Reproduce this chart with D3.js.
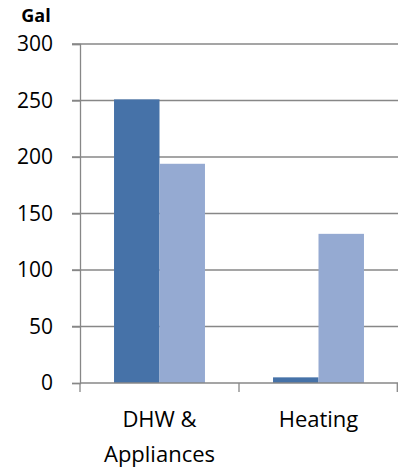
<!DOCTYPE html>
<html>
<head>
<meta charset="utf-8">
<script src="https://cdn.jsdelivr.net/npm/d3@7"></script>
<style>
  body { margin: 0; background: #fff; }
  text { font-family: "Open Sans", "Noto Sans", sans-serif; }
</style>
</head>
<body>
<svg width="399" height="467"></svg>
<script>
var categories = ["DHW & Appliances", "Heating"];
var categoryLines = [["DHW &", "Appliances"], ["Heating"]];
var series = ["Series 1", "Series 2"];
var series1 = [251, 5];
var series2 = [194, 132];
var yTicks = [0, 50, 100, 150, 200, 250, 300];

var colors = ["#4672a8", "#95aad2"];

var svg = d3.select("svg"),
  margin = { top: 44, right: 1, bottom: 84, left: 80 },
  width = +svg.attr("width") - margin.left - margin.right,
  height = +svg.attr("height") - margin.top - margin.bottom,
  g = svg.append("g")
    .attr("transform", "translate(" + margin.left + "," + margin.top + ")");

var data = categories.map(function(c, i) {
  return { cat: c, values: [series1[i], series2[i]] };
});

var x0 = d3.scaleBand()
  .domain(categories)
  .range([0, width])
  .paddingInner(0.428)
  .paddingOuter(0.214);

var x1 = d3.scaleBand()
  .domain(series)
  .range([0, x0.bandwidth()]);

var y = d3.scaleLinear().domain([0, 300]).range([height, 0]);

// gridlines
g.selectAll(".grid")
  .data(yTicks.slice(1))
  .enter()
  .append("line")
  .attr("x1", -8)
  .attr("x2", width)
  .attr("y1", function(d) { return y(d); })
  .attr("y2", function(d) { return y(d); })
  .attr("stroke", "#878787")
  .attr("stroke-width", 1.3);

// bars
var groups = g.selectAll(".group")
  .data(data)
  .enter()
  .append("g")
  .attr("transform", function(d) { return "translate(" + x0(d.cat) + ",0)"; });

groups.selectAll("rect")
  .data(function(d) { return d.values.map(function(v, i) { return { s: series[i], v: v, i: i }; }); })
  .enter()
  .append("rect")
  .attr("x", function(d) { return x1(d.s); })
  .attr("y", function(d) { return y(d.v); })
  .attr("width", x1.bandwidth())
  .attr("height", function(d) { return height - y(d.v); })
  .attr("fill", function(d) { return colors[d.i]; });

// y axis
var yAxis = g.append("g")
  .call(d3.axisLeft(y).tickValues(yTicks).tickSize(8).tickPadding(8));
yAxis.select(".domain").attr("stroke", "#878787").attr("stroke-width", 1.3);
yAxis.selectAll(".tick line").attr("stroke", "#878787").attr("stroke-width", 1.3);
yAxis.selectAll("text")
  .style("font-size", "21px")
  .attr("fill", "#000")
  .attr("x", -27);

// x axis
var xAxis = g.append("g")
  .attr("transform", "translate(0," + height + ")");
xAxis.append("line")
  .attr("x1", 0).attr("x2", width)
  .attr("stroke", "#878787").attr("stroke-width", 1.3);
var step = x0.step();
xAxis.selectAll(".xtick")
  .data(d3.range(categories.length + 1))
  .enter()
  .append("line")
  .attr("x1", function(d) { return Math.min(d * step, width - 0.7); })
  .attr("x2", function(d) { return Math.min(d * step, width - 0.7); })
  .attr("y1", 0).attr("y2", 9)
  .attr("stroke", "#878787").attr("stroke-width", 1.3);

xAxis.selectAll(".xlabel")
  .data(data)
  .enter()
  .append("text")
  .attr("text-anchor", "middle")
  .attr("x", function(d) { return x0(d.cat) + x0.bandwidth() / 2; })
  .attr("y", 44)
  .style("font-size", "22px")
  .selectAll("tspan")
  .data(function(d, i) { return categoryLines[i]; })
  .enter()
  .append("tspan")
  .attr("x", function() { var p = d3.select(this.parentNode).datum(); return x0(p.cat) + x0.bandwidth() / 2; })
  .attr("dy", function(d, i) { return i === 0 ? 0 : 35; })
  .text(function(d) { return d; });

// unit label
svg.append("text")
  .attr("x", 36)
  .attr("y", 22)
  .attr("text-anchor", "middle")
  .style("font-size", "18px")
  .style("font-weight", "bold")
  .text("Gal");
</script>
</body>
</html>
